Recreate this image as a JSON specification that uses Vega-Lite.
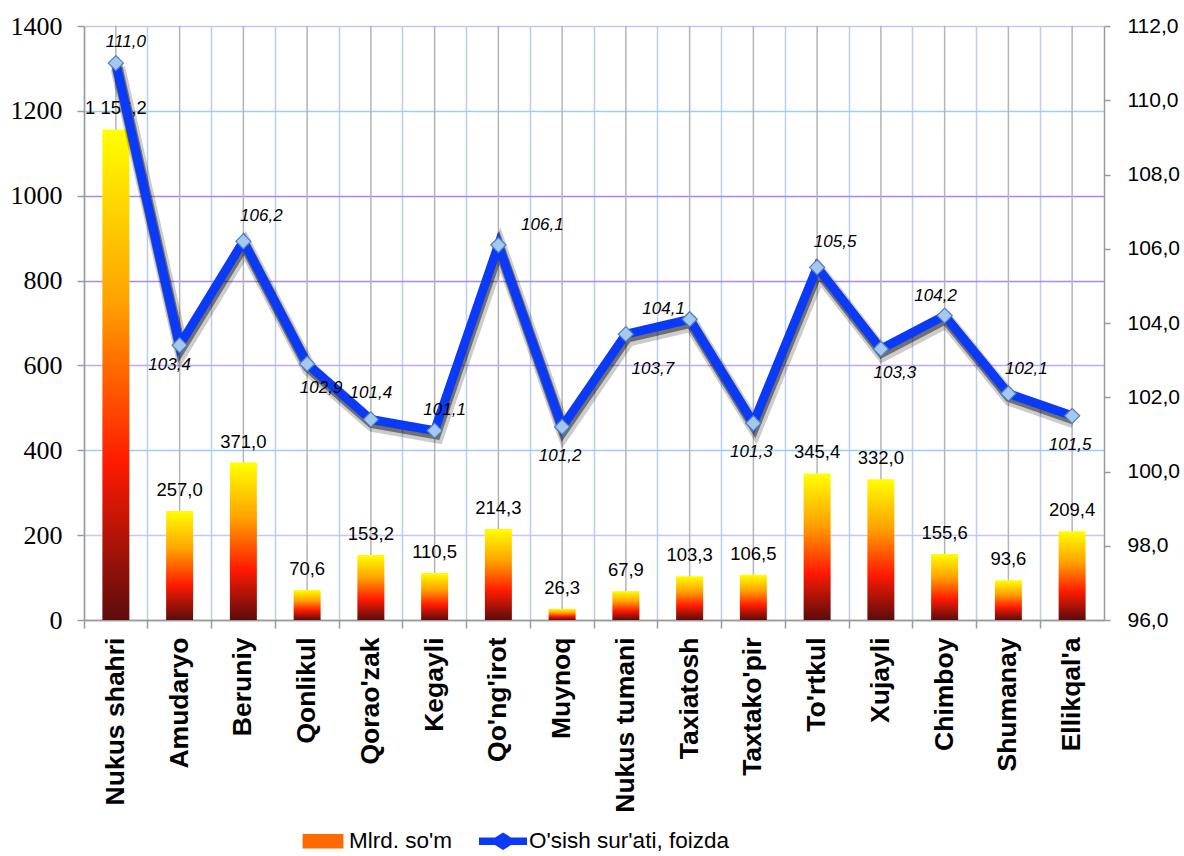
{
  "$schema": "https://vega.github.io/schema/vega-lite/v6.json",
  "width": 1020,
  "height": 594,
  "autosize": {"type": "none"},
  "padding": {"left": 84, "top": 26, "right": 80, "bottom": 236},
  "data": {
    "values": [
      {"region": "Nukus shahri", "mlrd": 1156.2, "growth": 111.0},
      {"region": "Amudaryo", "mlrd": 257.0, "growth": 103.4},
      {"region": "Beruniy", "mlrd": 371.0, "growth": 106.2},
      {"region": "Qonlikul", "mlrd": 70.6, "growth": 102.9},
      {"region": "Qorao'zak", "mlrd": 153.2, "growth": 101.4},
      {"region": "Kegayli", "mlrd": 110.5, "growth": 101.1},
      {"region": "Qo'ng'irot", "mlrd": 214.3, "growth": 106.1},
      {"region": "Muynoq", "mlrd": 26.3, "growth": 101.2},
      {"region": "Nukus tumani", "mlrd": 67.9, "growth": 103.7},
      {"region": "Taxiatosh", "mlrd": 103.3, "growth": 104.1},
      {"region": "Taxtako'pir", "mlrd": 106.5, "growth": 101.3},
      {"region": "To'rtkul", "mlrd": 345.4, "growth": 105.5},
      {"region": "Xujayli", "mlrd": 332.0, "growth": 103.3},
      {"region": "Chimboy", "mlrd": 155.6, "growth": 104.2},
      {"region": "Shumanay", "mlrd": 93.6, "growth": 102.1},
      {"region": "Ellikqal'a", "mlrd": 209.4, "growth": 101.5}
    ]
  },
  "config": {
    "locale": {"number": {"decimal": ",", "thousands": " ", "grouping": [3], "currency": ["", ""]}},
    "view": {"stroke": null},
    "axisX": {
      "title": null,
      "bandPosition": 0,
      "labelAngle": -90,
      "labelAlign": "right",
      "labelBaseline": "middle",
      "labelFont": "Liberation Sans",
      "labelFontWeight": "bold",
      "labelFontSize": 26.5,
      "labelColor": "#000000",
      "labelPadding": 9,
      "tickSize": 8,
      "tickColor": "#9a9a9a",
      "tickWidth": 1.5,
      "domainColor": "#9a9a9a",
      "domainWidth": 1.5,
      "grid": true,
      "gridColor": "#b8cff0",
      "gridWidth": 1.5
    }
  },
  "layer": [
    {
      "layer": [
        {
          "mark": {"type": "rule", "color": "#b4b4b4", "strokeWidth": 1.5},
          "encoding": {
            "x": {"field": "region", "type": "nominal", "sort": null, "scale": {"paddingInner": 0, "paddingOuter": 0}}
          }
        },
        {
          "mark": {
            "type": "bar",
            "width": {"band": 0.4235},
            "fill": {
              "gradient": "linear", "x1": 0, "y1": 0, "x2": 0, "y2": 1,
              "stops": [
                {"offset": 0, "color": "#ffff00"},
                {"offset": 0.35, "color": "#ffa200"},
                {"offset": 0.68, "color": "#ff1a00"},
                {"offset": 1, "color": "#5c0c0c"}
              ]
            }
          },
          "encoding": {
            "x": {"field": "region", "type": "nominal", "sort": null, "scale": {"paddingInner": 0, "paddingOuter": 0}},
            "y": {
              "field": "mlrd", "type": "quantitative",
              "scale": {"domain": [0, 1400], "nice": false},
              "axis": {
                "orient": "left", "title": null,
                "values": [0, 200, 400, 600, 800, 1000, 1200, 1400],
                "format": "d",
                "labelFont": "Liberation Serif, Times New Roman, serif", "labelFontSize": 26, "labelColor": "#000000",
                "labelPadding": 15, "tickSize": 7, "tickColor": "#9a9a9a", "tickWidth": 1.5,
                "domainColor": "#9a9a9a", "domainWidth": 1.5,
                "grid": true, "gridWidth": 1.5,
                "gridColor": {
                  "condition": [
                    {"test": "datum.value == 1200 || datum.value == 400", "value": "#99ccff"},
                    {"test": "datum.value == 1000 || datum.value == 800", "value": "#a888f0"},
                    {"test": "datum.value == 600", "value": "#c0a8f8"},
                    {"test": "datum.value == 0", "value": "#9a9a9a"}
                  ],
                  "value": "#c4c8f8"
                }
              }
            }
          }
        },
        {
          "mark": {"type": "text", "font": "Liberation Sans", "fontSize": 18.5, "dy": -21, "baseline": "middle", "color": "#000000"},
          "encoding": {
            "x": {"field": "region", "type": "nominal", "sort": null},
            "y": {"field": "mlrd", "type": "quantitative"},
            "text": {"field": "mlrd", "type": "quantitative", "format": ",.1f"}
          }
        }
      ]
    },
    {
      "encoding": {
        "x": {"field": "region", "type": "nominal", "sort": null},
        "y": {
          "field": "growth", "type": "quantitative",
          "scale": {"domain": [96, 112], "nice": false, "zero": false},
          "axis": {
            "orient": "right", "title": null,
            "values": [96, 98, 100, 102, 104, 106, 108, 110, 112],
            "format": ".1f",
            "labelFont": "Liberation Sans", "labelFontSize": 21, "labelColor": "#000000",
            "labelPadding": 17, "tickSize": 6, "tickColor": "#9a9a9a", "tickWidth": 1.5,
            "domainColor": "#9a9a9a", "domainWidth": 1.5, "grid": false
          }
        }
      },
      "layer": [
        {"mark": {"type": "line", "stroke": "#000000", "strokeWidth": 15, "opacity": 0.2, "xOffset": 2, "yOffset": 5}},
        {"mark": {"type": "line", "stroke": "#000000", "strokeWidth": 11, "opacity": 0.45, "xOffset": 1, "yOffset": 3}},
        {"mark": {"type": "line", "stroke": "#0a3af5", "strokeWidth": 9, "strokeJoin": "miter"}},
        {"mark": {"type": "point", "shape": "diamond", "filled": true, "size": 230, "fill": "#a6c8f0", "stroke": "#4d7fc0", "strokeWidth": 1.2, "opacity": 1}},
        {
          "transform": [{"filter": {"field": "region", "oneOf": ["Nukus shahri", "Kegayli"]}}],
          "mark": {"type": "text", "font": "Liberation Sans", "fontStyle": "italic", "fontSize": 17, "baseline": "middle", "dx": 10, "dy": -21, "color": "#000000"},
          "encoding": {"text": {"field": "growth", "type": "quantitative", "format": ".1f"}}
        },
        {
          "transform": [{"filter": {"field": "region", "oneOf": ["Beruniy", "Shumanay", "To'rtkul"]}}],
          "mark": {"type": "text", "font": "Liberation Sans", "fontStyle": "italic", "fontSize": 17, "baseline": "middle", "dx": 18, "dy": -25, "color": "#000000"},
          "encoding": {"text": {"field": "growth", "type": "quantitative", "format": ".1f"}}
        },
        {
          "transform": [{"filter": {"field": "region", "oneOf": ["Qo'ng'irot"]}}],
          "mark": {"type": "text", "font": "Liberation Sans", "fontStyle": "italic", "fontSize": 17, "baseline": "middle", "dx": 44, "dy": -20, "color": "#000000"},
          "encoding": {"text": {"field": "growth", "type": "quantitative", "format": ".1f"}}
        },
        {
          "transform": [{"filter": {"field": "region", "oneOf": ["Qorao'zak"]}}],
          "mark": {"type": "text", "font": "Liberation Sans", "fontStyle": "italic", "fontSize": 17, "baseline": "middle", "dx": 0, "dy": -27, "color": "#000000"},
          "encoding": {"text": {"field": "growth", "type": "quantitative", "format": ".1f"}}
        },
        {
          "transform": [{"filter": {"field": "region", "oneOf": ["Chimboy"]}}],
          "mark": {"type": "text", "font": "Liberation Sans", "fontStyle": "italic", "fontSize": 17, "baseline": "middle", "dx": -9, "dy": -20, "color": "#000000"},
          "encoding": {"text": {"field": "growth", "type": "quantitative", "format": ".1f"}}
        },
        {
          "transform": [{"filter": {"field": "region", "oneOf": ["Taxiatosh"]}}],
          "mark": {"type": "text", "font": "Liberation Sans", "fontStyle": "italic", "fontSize": 17, "baseline": "middle", "dx": -26, "dy": -10, "color": "#000000"},
          "encoding": {"text": {"field": "growth", "type": "quantitative", "format": ".1f"}}
        },
        {
          "transform": [{"filter": {"field": "region", "oneOf": ["Amudaryo"]}}],
          "mark": {"type": "text", "font": "Liberation Sans", "fontStyle": "italic", "fontSize": 17, "baseline": "middle", "dx": -10, "dy": 20, "color": "#000000"},
          "encoding": {"text": {"field": "growth", "type": "quantitative", "format": ".1f"}}
        },
        {
          "transform": [{"filter": {"field": "region", "oneOf": ["Muynoq", "Taxtako'pir", "Ellikqal'a"]}}],
          "mark": {"type": "text", "font": "Liberation Sans", "fontStyle": "italic", "fontSize": 17, "baseline": "middle", "dx": -2, "dy": 29, "color": "#000000"},
          "encoding": {"text": {"field": "growth", "type": "quantitative", "format": ".1f"}}
        },
        {
          "transform": [{"filter": {"field": "region", "oneOf": ["Qonlikul", "Xujayli"]}}],
          "mark": {"type": "text", "font": "Liberation Sans", "fontStyle": "italic", "fontSize": 17, "baseline": "middle", "dx": 14, "dy": 24, "color": "#000000"},
          "encoding": {"text": {"field": "growth", "type": "quantitative", "format": ".1f"}}
        },
        {
          "transform": [{"filter": {"field": "region", "oneOf": ["Nukus tumani"]}}],
          "mark": {"type": "text", "font": "Liberation Sans", "fontStyle": "italic", "fontSize": 17, "baseline": "middle", "dx": 27, "dy": 35, "color": "#000000"},
          "encoding": {"text": {"field": "growth", "type": "quantitative", "format": ".1f"}}
        }
      ]
    },
    {
      "data": {"values": [{"s": "Mlrd. so'm"}, {"s": "O'sish sur'ati, foizda"}]},
      "mark": {"type": "point", "opacity": 0, "filled": true, "size": 2304},
      "encoding": {
        "color": {
          "field": "s", "type": "nominal", "sort": null,
          "scale": {"range": ["#ff6a00", "#0a3af5"]},
          "legend": {
            "title": null,
            "orient": "none",
            "direction": "horizontal",
            "legendX": 215,
            "legendY": 791,
            "padding": 0,
            "labelFont": "Liberation Sans",
            "labelFontSize": 22.5,
            "labelColor": "#000000",
            "labelLimit": 0,
            "labelOffset": 2,
            "columnPadding": 26,
            "symbolSize": 2304,
            "symbolOpacity": 1,
            "symbolStrokeWidth": 0
          }
        },
        "shape": {
          "field": "s", "type": "nominal", "sort": null,
          "scale": {"range": [
            "M-0.85,-0.3H0.85V0.3H-0.85Z",
            "M-1,-0.16H-0.33L0,-0.36L0.33,-0.16H1V0.16H0.33L0,0.36L-0.33,0.16H-1Z"
          ]},
          "legend": {
            "title": null,
            "orient": "none",
            "direction": "horizontal",
            "legendX": 215,
            "legendY": 791,
            "padding": 0,
            "labelFont": "Liberation Sans",
            "labelFontSize": 22.5,
            "labelColor": "#000000",
            "labelLimit": 0,
            "labelOffset": 2,
            "columnPadding": 26,
            "symbolSize": 2304,
            "symbolOpacity": 1,
            "symbolStrokeWidth": 0
          }
        }
      }
    }
  ],
  "resolve": {"scale": {"y": "independent", "color": "independent", "shape": "independent"}, "axis": {"y": "independent"}}
}
